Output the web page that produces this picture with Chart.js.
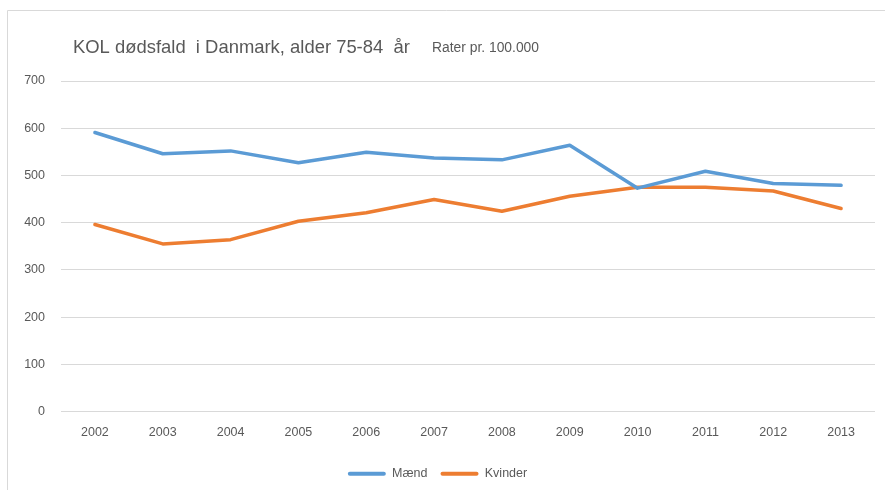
<!DOCTYPE html>
<html>
<head>
<meta charset="utf-8">
<script src="https://cdn.jsdelivr.net/npm/chart.js@4.4.0/dist/chart.umd.min.js"></script>
<style>
  html, body { margin: 0; padding: 0; background: #fff; }
  #wrap { width: 885px; height: 490px; }
</style>
</head>
<body>
<div id="wrap"><canvas id="kolChart" width="885" height="490"></canvas></div>
<script>
const years = ['2002', '2003', '2004', '2005', '2006', '2007', '2008', '2009', '2010', '2011', '2012', '2013'];
const maend = [591, 546, 552, 527, 549, 537, 533, 564, 473, 509, 483, 479];
const kvinder = [396, 355, 364, 403, 421, 449, 424, 456, 475, 475, 467, 430];
const titleText = 'KOL dødsfald  i Danmark, alder 75-84  år';
const subTitleText = 'Rater pr. 100.000';

const sans = "'Liberation Sans', Arial, sans-serif";

// pick a font size so the text spans the wanted width
function fitFont(c, text, family, width) {
  c.font = '20px ' + family;
  const w = c.measureText(text).width;
  return (20 * width / w).toFixed(2) + 'px ' + family;
}

// frame + title drawn by hand, Excel style
const framePlugin = {
  id: 'frame',
  beforeDraw(chart) {
    const c = chart.ctx;
    c.save();
    c.strokeStyle = '#d9d9d9';
    c.lineWidth = 1;
    c.beginPath();
    c.moveTo(7.5, 490);
    c.lineTo(7.5, 10.5);
    c.lineTo(885, 10.5);
    c.stroke();
    c.restore();
  },
  afterDraw(chart) {
    const c = chart.ctx;
    c.save();
    c.fillStyle = '#595959';
    c.textBaseline = 'alphabetic';
    c.font = fitFont(c, titleText, sans, 337);
    c.fillText(titleText, 73, 53);
    c.font = fitFont(c, subTitleText, sans, 107);
    c.fillText(subTitleText, 432, 52);
    c.restore();
  }
};

const ctx = document.getElementById('kolChart');
const chart = new Chart(ctx, {
  type: 'line',
  data: {
    labels: years,
    datasets: [
      {
        label: 'Mænd',
        data: maend,
        borderColor: '#5b9bd5',
        backgroundColor: '#5b9bd5'
      },
      {
        label: 'Kvinder',
        data: kvinder,
        borderColor: '#ed7d31',
        backgroundColor: '#ed7d31'
      }
    ]
  },
  options: {
    responsive: false,
    animation: false,
    datasets: {
      line: {
        borderWidth: 3.5,
        tension: 0,
        pointRadius: 0,
        pointHoverRadius: 0,
        borderCapStyle: 'round',
        borderJoinStyle: 'round'
      }
    },
    layout: {
      padding: { top: 81, right: 10, bottom: 0, left: 0 }
    },
    scales: {
      x: {
        offset: true,
        grid: { display: false, drawTicks: false },
        border: { display: false },
        ticks: {
          color: '#595959',
          font: { family: sans, size: 12.5 },
          padding: 14,
          maxRotation: 0
        }
      },
      y: {
        min: 0,
        max: 700,
        grid: { color: '#d9d9d9', drawTicks: false },
        border: { display: false },
        ticks: {
          stepSize: 100,
          color: '#595959',
          font: { family: sans, size: 12.5 },
          padding: 16
        },
        afterFit(scale) { scale.width = 61; }
      }
    },
    plugins: {
      legend: {
        position: 'bottom',
        labels: {
          boxWidth: 38,
          boxHeight: 4,
          useBorderRadius: true,
          borderRadius: 2,
          padding: 13,
          color: '#595959',
          font: { family: sans, size: 12.5 },
          generateLabels(chart) {
            const items = Chart.defaults.plugins.legend.labels.generateLabels(chart);
            items.forEach(it => { it.lineWidth = 0; });
            return items;
          }
        }
      },
      tooltip: { enabled: false }
    }
  },
  plugins: [framePlugin]
});
</script>
</body>
</html>
